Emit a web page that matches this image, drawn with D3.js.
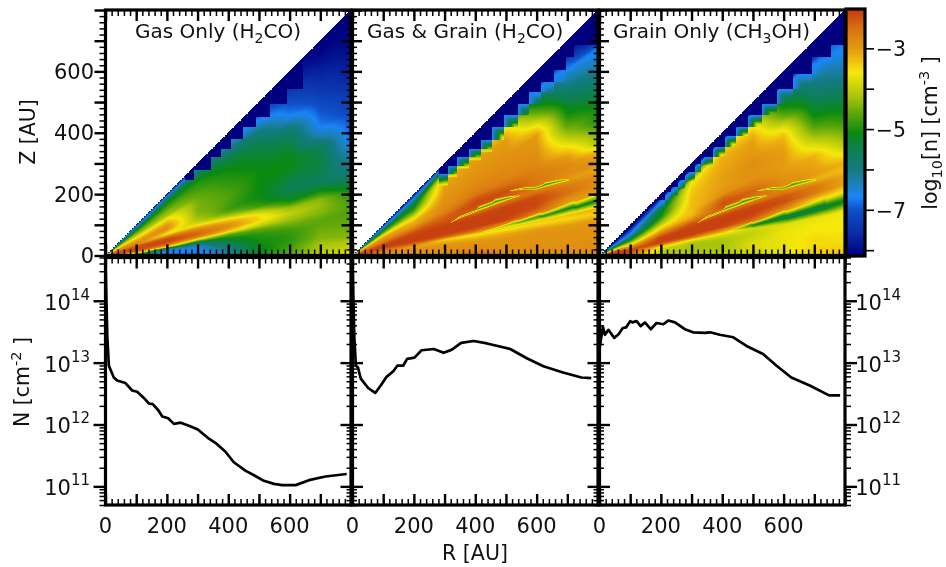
<!DOCTYPE html>
<html>
<head>
<meta charset="utf-8">
<script src="https://cdn.jsdelivr.net/npm/d3@7"></script>
<style>
    html, body { margin: 0; padding: 0; background: white; }
    #heat { position: absolute; left: 0; top: 0; filter: blur(0.7px); }
    #chart { position: absolute; left: 0; top: 0; filter: blur(0.3px); }
    text { font-family: "DejaVu Sans", sans-serif; fill: #111; }
</style>
</head>
<body>
<canvas id="heat" width="946" height="567"></canvas>
<svg id="chart" width="946" height="567"></svg>
<script>
//  heat map tables: log10 n, one row per z/R value, one column per R value
const gridR = [10, 50, 100, 200, 300, 400, 500, 600, 700, 800];
const gridF = [0, .02, .05, .08, .11, .14, .17, .2, .23, .26, .29, .32, .35, .38, .42, .46, .5, .55, .6, .65, .7, .75, .8, .85, .9, .95, 1];

const gasOnly = [
    [-2.3, -2.5, -4.8, -6.7, -6.8, -6.3, -5.0, -4.6, -4.0, -3.7],
    [-2.3, -2.6, -4.9, -6.7, -6.8, -6.2, -5.1, -4.7, -4.1, -3.9],
    [-2.3, -2.7, -5.0, -6.7, -6.7, -6.0, -5.2, -4.8, -4.2, -4.1],
    [-2.3, -2.6, -3.8, -6.6, -6.6, -5.7, -5.1, -4.9, -4.4, -4.4],
    [-2.3, -2.4, -2.7, -6.0, -6.3, -5.4, -5.0, -4.9, -4.5, -4.5],
    [-2.3, -2.3, -2.35, -3.6, -5.6, -5.1, -4.9, -4.8, -4.6, -4.6],
    [-2.25, -2.2, -2.2, -2.6, -3.9, -4.6, -4.6, -4.5, -4.6, -4.7],
    [-2.2, -2.2, -2.2, -2.25, -2.7, -3.3, -3.9, -4.2, -4.4, -4.7],
    [-2.2, -2.2, -2.2, -2.15, -2.4, -2.85, -3.45, -4.0, -4.3, -4.8],
    [-2.3, -2.2, -2.2, -2.15, -2.5, -2.95, -3.55, -4.3, -4.35, -5.0],
    [-2.4, -2.3, -2.2, -2.4, -2.9, -3.4, -4.1, -5.0, -4.9, -5.5],
    [-2.5, -2.4, -2.5, -3.0, -3.4, -4.1, -4.8, -5.3, -5.4, -5.7],
    [-2.6, -2.6, -2.7, -3.6, -3.9, -4.6, -5.0, -5.5, -5.6, -6.0],
    [-2.7, -2.7, -2.8, -3.3, -4.1, -4.8, -5.1, -5.5, -5.5, -6.2],
    [-2.8, -2.8, -2.9, -2.9, -4.3, -4.75, -5.1, -5.4, -5.4, -6.4],
    [-2.9, -2.9, -3.0, -2.85, -4.4, -4.7, -5.1, -5.2, -5.45, -6.7],
    [-3.1, -3.1, -3.2, -3.0, -4.45, -4.7, -5.1, -5.1, -5.5, -6.9],
    [-3.4, -3.4, -3.5, -3.3, -4.45, -4.8, -5.1, -5.2, -6.2, -7.0],
    [-3.7, -3.7, -3.8, -3.6, -4.5, -4.9, -5.2, -5.4, -6.7, -7.2],
    [-4.0, -4.0, -4.1, -4.2, -4.6, -5.0, -5.3, -5.6, -6.9, -7.35],
    [-4.3, -4.3, -4.4, -4.35, -4.75, -5.1, -5.45, -6.0, -7.1, -7.55],
    [-4.7, -4.7, -4.7, -4.6, -4.85, -5.3, -5.6, -6.6, -7.3, -7.75],
    [-5.0, -5.0, -5.0, -4.85, -5.0, -5.5, -5.9, -6.9, -7.5, -7.85],
    [-5.5, -5.5, -5.5, -5.05, -5.3, -5.9, -6.4, -7.15, -7.7, -8.0],
    [-6.0, -6.0, -6.0, -5.6, -5.7, -6.3, -6.8, -7.45, -7.9, -8.1],
    [-6.6, -6.6, -6.6, -6.2, -6.3, -6.7, -7.1, -7.7, -8.1, -8.1],
    [-7.8, -7.8, -7.8, -7.8, -7.8, -8.0, -8.0, -8.0, -8.1, -8.1]
];

const gasGrain = [
    [-2.4, -2.6, -2.85, -2.85, -2.85, -2.6, -2.85, -2.85, -2.85, -2.85],
    [-2.3, -2.5, -2.85, -2.85, -2.85, -2.5, -2.85, -2.85, -2.85, -2.85],
    [-2.3, -2.4, -2.85, -2.9, -2.9, -2.8, -2.9, -2.9, -2.9, -2.85],
    [-2.2, -2.3, -2.8, -2.9, -2.9, -2.9, -2.9, -2.9, -2.9, -2.9],
    [-2.2, -2.3, -2.7, -2.95, -2.95, -2.95, -2.95, -2.9, -2.9, -2.9],
    [-2.2, -2.2, -2.6, -3.1, -3.1, -3.2, -3.1, -3.0, -3.0, -2.95],
    [-2.2, -2.2, -2.5, -2.7, -3.5, -3.6, -3.6, -3.5, -3.5, -3.4],
    [-2.15, -2.15, -2.4, -2.3, -2.4, -2.5, -3.0, -3.3, -3.2, -3.1],
    [-2.15, -2.15, -2.2, -2.1, -2.1, -2.1, -2.15, -2.6, -3.1, -3.1],
    [-2.15, -2.15, -2.1, -2.1, -2.1, -2.1, -2.1, -2.2, -2.9, -3.0],
    [-2.2, -2.2, -2.1, -2.1, -2.1, -2.1, -2.1, -2.15, -2.5, -2.9],
    [-2.3, -2.2, -2.1, -2.1, -2.1, -2.15, -2.15, -2.2, -2.6, -2.85],
    [-2.4, -2.3, -2.15, -2.15, -2.2, -2.5, -2.5, -2.6, -3.0, -3.1],
    [-2.5, -2.4, -2.3, -2.25, -2.3, -2.3, -2.3, -2.6, -2.85, -2.85],
    [-2.6, -2.5, -2.5, -2.5, -2.4, -2.15, -2.2, -2.65, -2.8, -3.2],
    [-2.7, -2.7, -2.7, -2.8, -2.65, -2.3, -2.5, -2.7, -3.0, -4.2],
    [-2.8, -2.8, -2.8, -3.1, -2.8, -2.6, -2.75, -2.8, -3.5, -4.5],
    [-3.0, -3.0, -2.95, -3.2, -2.85, -2.75, -2.8, -2.85, -4.1, -5.0],
    [-3.2, -3.2, -3.2, -3.6, -2.9, -2.85, -2.85, -2.95, -4.6, -5.1],
    [-3.6, -3.6, -3.6, -4.0, -2.95, -2.9, -2.9, -3.0, -5.0, -5.4],
    [-4.2, -4.2, -4.2, -4.5, -3.0, -2.95, -2.95, -3.55, -5.3, -5.8],
    [-4.7, -4.7, -4.7, -4.9, -3.05, -3.0, -3.0, -4.3, -5.7, -6.1],
    [-5.1, -5.1, -5.0, -5.2, -3.1, -3.05, -3.3, -4.9, -6.1, -6.5],
    [-5.6, -5.6, -5.6, -5.6, -3.4, -3.2, -3.9, -5.5, -6.5, -6.8],
    [-6.4, -6.4, -6.4, -6.2, -4.2, -3.7, -5.2, -6.6, -7.0, -8.0],
    [-7.0, -7.0, -7.0, -6.9, -5.6, -5.2, -6.6, -8.0, -8.0, -8.1],
    [-7.8, -7.8, -7.8, -7.8, -7.6, -7.6, -8.0, -8.1, -8.1, -8.1]
];

const grainOnly = [
    [-2.6, -3.0, -3.6, -4.1, -4.1, -4.0, -3.9, -3.7, -3.4, -3.3],
    [-2.4, -2.7, -3.3, -4.1, -4.1, -4.1, -3.9, -3.7, -3.4, -3.4],
    [-2.2, -2.3, -2.5, -4.1, -4.15, -4.2, -3.8, -3.7, -3.5, -3.5],
    [-2.2, -2.2, -2.2, -4.0, -4.2, -4.2, -3.8, -3.7, -3.5, -3.55],
    [-2.2, -2.1, -2.1, -3.9, -4.2, -4.2, -3.9, -3.65, -3.6, -3.6],
    [-2.1, -2.1, -2.1, -3.6, -4.1, -4.1, -4.0, -3.7, -3.6, -3.6],
    [-2.1, -2.1, -2.1, -2.8, -3.6, -3.8, -3.9, -3.8, -3.7, -3.6],
    [-2.1, -2.1, -2.2, -2.2, -2.4, -3.0, -3.5, -3.7, -3.8, -3.7],
    [-2.2, -2.2, -2.4, -2.1, -2.1, -2.15, -2.5, -3.3, -3.7, -3.8],
    [-2.3, -2.4, -2.7, -2.1, -2.1, -2.1, -2.15, -2.6, -3.4, -3.6],
    [-2.5, -2.6, -3.0, -2.1, -2.1, -2.1, -2.1, -2.2, -2.6, -3.1],
    [-2.7, -2.8, -3.3, -2.3, -2.15, -2.15, -2.15, -2.3, -2.6, -3.1],
    [-3.0, -3.2, -3.6, -2.6, -2.3, -2.5, -2.6, -2.7, -3.2, -3.3],
    [-3.4, -3.6, -3.9, -2.9, -2.7, -2.4, -2.5, -2.8, -3.0, -3.2],
    [-3.8, -4.0, -4.3, -3.3, -3.2, -2.2, -2.4, -2.9, -3.1, -3.7],
    [-4.2, -4.4, -4.7, -3.6, -3.3, -2.4, -2.7, -3.0, -3.2, -4.2],
    [-4.7, -4.9, -5.0, -4.0, -3.3, -2.9, -2.9, -3.0, -3.65, -4.5],
    [-5.2, -5.3, -5.5, -4.4, -3.3, -3.0, -2.9, -3.0, -4.2, -4.9],
    [-5.7, -5.8, -6.0, -4.8, -3.3, -3.05, -2.85, -3.1, -4.7, -5.2],
    [-6.2, -6.3, -6.4, -5.1, -3.35, -3.05, -2.95, -3.3, -5.1, -5.5],
    [-6.6, -6.6, -6.7, -5.2, -3.4, -3.1, -3.0, -3.8, -5.4, -5.9],
    [-6.9, -6.9, -6.9, -5.5, -3.5, -3.15, -3.05, -4.5, -5.7, -6.2],
    [-7.2, -7.2, -7.1, -5.8, -3.7, -3.2, -3.3, -5.0, -6.0, -6.5],
    [-7.6, -7.6, -7.5, -6.5, -4.6, -3.3, -3.7, -5.4, -6.4, -6.7],
    [-8.0, -8.0, -8.1, -6.8, -5.5, -4.0, -4.8, -5.8, -6.8, -6.9],
    [-8.1, -8.1, -8.1, -8.1, -8.1, -8.1, -8.1, -8.1, -8.1, -8.1],
    [-8.1, -8.1, -8.1, -8.1, -8.1, -8.1, -8.1, -8.1, -8.1, -8.1]
];

//  thin lenses between the red bands: R, lower and upper z/R, log10 n. The jumps are the model's steps.
const upperLensA = {
    R: [320, 350, 405, 410, 455, 465, 510, 545],
    low: [.33, .347, .352, .352, .354, .354, .356, .356],
    high: [.336, .368, .37, .392, .388, .398, .38, .358],
    n: [-3.6, -4.4, -4.6, -4.8, -4.9, -5.0, -4.8, -3.8]
};
const upperLensB = {
    R: [512, 560, 600, 620, 628, 680, 707],
    low: [.41, .384, .358, .358, .356, .351, .347],
    high: [.412, .396, .374, .374, .38, .364, .349],
    n: [-3.6, -4.6, -4.8, -4.9, -5.0, -4.6, -3.6]
};
const lowerLensGas = {
    R: [425, 480, 534, 540, 609, 620, 717, 730, 800],
    low: [.178, .181, .184, .184, .188, .188, .192, .192, .195],
    high: [.182, .2, .218, .212, .23, .224, .246, .24, .254],
    n: [-3.6, -4.1, -4.5, -4.6, -4.9, -5.0, -5.2, -5.2, -5.2]
};
const lowerLensGrain = {
    R: [418, 495, 500, 603, 610, 733, 740, 800],
    low: [.185, .178, .178, .172, .172, .18, .18, .186],
    high: [.187, .222, .215, .245, .238, .255, .25, .258],
    n: [-3.6, -5.0, -5.2, -5.6, -5.6, -5.5, -5.4, -5.2]
};

//  staircase of empty model cells: above stairZ[i] (from stairR[i] on) the map is navy
const gasOnlyStairR = [0, 258, 290, 345, 378, 410, 448, 492, 535, 590, 644];
const gasOnlyStairZ = [9999, 245, 277, 321, 348, 381, 419, 451, 495, 544, 9999];
const gasGrainStairR = [0, 283, 310, 342, 380, 418, 456, 495, 538, 576, 614, 658, 696, 723];
const gasGrainStairZ = [9999, 266, 293, 321, 348, 375, 419, 457, 495, 532, 565, 603, 647, 685];
const grainOnlyStairR = [0, 190, 212, 234, 256, 277, 310, 332, 370, 408, 446, 484, 528, 577, 631, 691, 756];
const grainOnlyStairZ = [9999, 180, 207, 223, 245, 272, 299, 321, 354, 388, 419, 457, 495, 544, 593, 647, 685];
//  width in AU of the blue rim along the staircase
const stairRim = [0, 40, 30];
const rimLevel = -6.7;

//  column density, log10 N
const gasOnlyLineR = [1, 3, 6, 11, 27, 38, 65, 87, 103, 125, 141, 154, 172, 185, 204, 223, 245, 272, 301, 337, 359, 391, 418, 457, 484, 516, 549, 576, 620, 663, 717, 786];
const gasOnlyLineN = [14.5, 14.0, 13.4, 12.95, 12.76, 12.71, 12.67, 12.55, 12.53, 12.43, 12.34, 12.33, 12.23, 12.13, 12.10, 12.01, 12.03, 11.98, 11.92, 11.77, 11.70, 11.56, 11.39, 11.25, 11.18, 11.09, 11.04, 11.02, 11.02, 11.10, 11.16, 11.20];
const gasGrainLineR = [1, 3, 6, 11, 18, 27, 51, 74, 92, 111, 133, 146, 165, 178, 202, 225, 265, 297, 324, 354, 395, 438, 514, 568, 622, 686, 746, 778];
const gasGrainLineN = [14.5, 14.0, 13.4, 12.95, 12.92, 12.74, 12.59, 12.51, 12.63, 12.77, 12.86, 12.95, 12.95, 13.06, 13.08, 13.20, 13.22, 13.16, 13.21, 13.32, 13.35, 13.31, 13.22, 13.07, 12.94, 12.84, 12.76, 12.75];
const grainOnlyLineR = [1, 11, 18, 29, 48, 62, 76, 87, 100, 107, 121, 134, 148, 167, 186, 208, 224, 246, 278, 305, 343, 360, 392, 436, 479, 533, 577, 625, 685, 748, 784];
const grainOnlyLineN = [13.25, 13.58, 13.45, 13.53, 13.40, 13.46, 13.56, 13.57, 13.67, 13.65, 13.67, 13.59, 13.65, 13.54, 13.64, 13.62, 13.68, 13.65, 13.54, 13.49, 13.48, 13.49, 13.45, 13.41, 13.27, 13.14, 12.95, 12.76, 12.63, 12.47, 12.47];

const panelTitles = [["Gas Only (H", "2", "CO)"], ["Gas & Grain (H", "2", "CO)"], ["Grain Only (CH", "3", "OH)"]];
const titleX = [135, 367, 613];
const rTicks = [0, 200, 400, 600];
const zTicks = [0, 200, 400, 600];
const nTicks = [11, 12, 13, 14];
const barTicks = [-3, -5, -7];
const barMinorTicks = [-3, -4, -5, -6, -7, -8];

const colorStops = [-8.12, -7.6, -7, -6.67, -6.3, -6, -5.5, -5.1, -4.6, -4.2, -3.6, -3.2, -3, -2.5, -2.05];
const colorValues = ["#00007f", "#0a2aa5", "#0f50c8", "#1a85f5", "#1a80b0", "#137a80", "#0c8050", "#0a8a10", "#60a80a", "#a8c40a", "#f5e80a", "#eeb010", "#e39a10", "#d8700f", "#c53a0f"];

const panelLeft = [105.5, 352.5, 599.5];
const panelRight = [351, 598, 845];
const topRange = [255.5, 10];
const botRange = [505, 257.5];

const maps = [gasOnly, gasGrain, grainOnly];
const lenses = [[], [upperLensA, upperLensB, lowerLensGas], [upperLensA, upperLensB, lowerLensGrain]];
const stairsR = [gasOnlyStairR, gasGrainStairR, grainOnlyStairR];
const stairsZ = [gasOnlyStairZ, gasGrainStairZ, grainOnlyStairZ];
const linesR = [gasOnlyLineR, gasGrainLineR, grainOnlyLineR];
const linesN = [gasOnlyLineN, gasGrainLineN, grainOnlyLineN];

const color = d3.scaleLinear().domain(colorStops).range(colorValues).clamp(true);
const svg = d3.select("#chart");
const ctx = document.getElementById("heat").getContext("2d");

const zScale = d3.scaleLinear().domain([0, 800]).range(topRange);
const nScale = d3.scaleLog().domain([5e10, 5e14]).range(botRange);
const barScale = d3.scaleLinear().domain([-8.12, -2.05]).range([255, 10]);

//  value of a table at (R, z/R), linear between neighbours
function sampleMap(iTable, iR, iF) {
    const r = Math.max(gridR[0], Math.min(gridR[gridR.length - 1], iR));
    const c = Math.min(gridR.length - 2, d3.bisectRight(gridR, r) - 1);
    const k = Math.min(gridF.length - 2, d3.bisectRight(gridF, iF) - 1);
    const tc = (r - gridR[c]) / (gridR[c + 1] - gridR[c]);
    const tk = (iF - gridF[k]) / (gridF[k + 1] - gridF[k]);
    const a = iTable[k][c] * (1 - tc) + iTable[k][c + 1] * tc;
    const b = iTable[k + 1][c] * (1 - tc) + iTable[k + 1][c + 1] * tc;
    return a * (1 - tk) + b * tk;
}

//  lay a lens over the value from the table: strongest on its middle line
function applyLens(iLens, iValue, iR, iF) {
    const first = iLens.R[0];
    const last = iLens.R[iLens.R.length - 1];
    if (iR < first || iR > last) return iValue;
    const low = d3.scaleLinear().domain(iLens.R).range(iLens.low)(iR);
    const high = d3.scaleLinear().domain(iLens.R).range(iLens.high)(iR);
    const half = (high - low) / 2 + 0.003;
    const d = Math.abs(iF - (low + high) / 2);
    if (d > half) return iValue;
    const n = d3.scaleLinear().domain(iLens.R).range(iLens.n)(iR);
    return iValue + (n - iValue) * (1 - d / half);
}

//  how far a point is from the staircase, along z or along R
function rimDistance(iSR, iSZ, iR, iZ) {
    const s = d3.bisectRight(iSR, iR) - 1;
    let dist = iSZ[s] - iZ;
    if (s > 0 && iZ > iSZ[s - 1]) dist = Math.min(dist, iR - iSR[s]);
    return dist;
}

function drawMap(iPanel, xScale) {
    const table = maps[iPanel];
    const sR = stairsR[iPanel];
    const sZ = stairsZ[iPanel];
    const rim = stairRim[iPanel];
    const [x0, x1] = xScale.range();
    for (let px = Math.floor(x0); px < x1; px++) {
        const R = xScale.invert(px + 0.5);
        if (R < 0 || R > 800) continue;
        const edge = sZ[d3.bisectRight(sR, R) - 1];
        for (let py = Math.floor(topRange[1]); py < topRange[0]; py++) {
            const z = zScale.invert(py + 0.5);
            if (z < 0 || z > R) continue;
            let v = sampleMap(table, R, z / R);
            lenses[iPanel].forEach(function (lens) {
                v = applyLens(lens, v, R, z / R);
            });
            if (rim > 0 && edge < 9999 && z <= edge) {
                const dist = rimDistance(sR, sZ, R, z);
                if (dist < rim) v = Math.min(v, rimLevel + (v - rimLevel) * dist / rim);
            }
            ctx.fillStyle = z > edge ? colorValues[0] : color(v);
            ctx.fillRect(px, py, 1, 1);
        }
    }
}

//  one set of ticks through a d3 axis, labels are added on their own
function addTicks(iAxisFn, iScale, iValues, iSize, iWidth, iX, iY) {
    const g = svg.append("g").attr("transform", `translate(${iX},${iY})`)
        .call(iAxisFn(iScale).tickValues(iValues).tickSize(-iSize).tickFormat(""));
    g.select(".domain").remove();
    g.selectAll("line").attr("stroke", "#000").attr("stroke-width", iWidth);
}

function addFrame(iX0, iX1, iY0, iY1) {
    svg.append("rect").attr("x", iX0).attr("y", iY1)
        .attr("width", iX1 - iX0).attr("height", iY0 - iY1)
        .attr("fill", "none").attr("stroke", "#000").attr("stroke-width", 3.2);
}

function addLogLabels(iScale, iX) {
    nTicks.forEach(function (n) {
        const t = svg.append("text").attr("x", iX).attr("y", iScale(Math.pow(10, n)) + 9)
            .attr("text-anchor", "end").attr("font-size", 21);
        t.append("tspan").text("10");
        t.append("tspan").attr("dy", -10).attr("font-size", 15).text(n);
    });
}

const major100 = d3.range(0, 801, 100);
const minor20 = d3.range(0, 801, 20);

panelLeft.forEach(function (left, i) {
    const xScale = d3.scaleLinear().domain([0, 800]).range([left, panelRight[i]]);
    drawMap(i, xScale);

    //  upper panel ticks
    [[d3.axisBottom, topRange[0]], [d3.axisTop, topRange[1]]].forEach(function ([fn, y]) {
        addTicks(fn, xScale, minor20, 6, 1.5, 0, y);
        addTicks(fn, xScale, major100, 11, 2.4, 0, y);
    });
    [[d3.axisRight, left], [d3.axisLeft, panelRight[i]]].forEach(function ([fn, x]) {
        addTicks(fn, zScale, minor20, 6, 1.5, x, 0);
        addTicks(fn, zScale, major100, 11, 2.4, x, 0);
    });
    addFrame(left, panelRight[i], topRange[0], topRange[1]);

    //  lower panel ticks
    [[d3.axisBottom, botRange[0]], [d3.axisTop, botRange[1]]].forEach(function ([fn, y]) {
        addTicks(fn, xScale, minor20, 6, 1.5, 0, y);
        addTicks(fn, xScale, major100, 11, 2.4, 0, y);
    });
    const minorN = [];
    [10, 11, 12, 13, 14].forEach(function (n) {
        d3.range(1, 10).forEach(function (m) {
            const v = m * Math.pow(10, n);
            if (m > 1 && v >= 5e10 && v <= 5e14) minorN.push(v);
        });
    });
    const majorN = nTicks.map(n => Math.pow(10, n));
    [[d3.axisRight, left], [d3.axisLeft, panelRight[i]]].forEach(function ([fn, x]) {
        addTicks(fn, nScale, minorN, 6, 1.5, x, 0);
        addTicks(fn, nScale, majorN, 12, 2.4, x, 0);
    });

    //  the column density line
    const line = d3.line().x((d, k) => xScale(linesR[i][k])).y(d => nScale(Math.pow(10, d)));
    svg.append("path").attr("d", line(linesN[i]))
        .attr("fill", "none").attr("stroke", "#000").attr("stroke-width", 2.7)
        .attr("stroke-linejoin", "round");
    addFrame(left, panelRight[i], botRange[0], botRange[1]);

    //  R labels
    svg.selectAll(null).data(rTicks).enter().append("text")
        .attr("x", d => xScale(d)).attr("y", 533)
        .attr("text-anchor", "middle").attr("font-size", 21).text(d => d);

    //  title with its subscript
    const title = svg.append("text").attr("x", titleX[i]).attr("y", 38).attr("font-size", 20);
    title.append("tspan").text(panelTitles[i][0]);
    title.append("tspan").attr("dy", 5).attr("font-size", 14).text(panelTitles[i][1]);
    title.append("tspan").attr("dy", -5).text(panelTitles[i][2]);
});

//  left labels
svg.selectAll(null).data(zTicks).enter().append("text")
    .attr("x", 94).attr("y", d => zScale(d) + 7.5)
    .attr("text-anchor", "end").attr("font-size", 21).text(d => d);
addLogLabels(nScale, 90);
addLogLabels(nScale, 901);

svg.append("text").attr("transform", "translate(35,132) rotate(-90)")
    .attr("text-anchor", "middle").attr("font-size", 20.5).text("Z [AU]");
const nLabel = svg.append("text").attr("transform", "translate(29,382) rotate(-90)")
    .attr("text-anchor", "middle").attr("font-size", 20.5);
nLabel.append("tspan").text("N [cm");
nLabel.append("tspan").attr("dy", -8).attr("font-size", 14.5).text("-2");
nLabel.append("tspan").attr("dy", 8).text(" ]");
svg.append("text").attr("x", 475).attr("y", 560)
    .attr("text-anchor", "middle").attr("font-size", 20.5).text("R [AU]");

//  colour bar
const barLevels = d3.range(10, 255).map(y => barScale.invert(y + 0.5));
svg.selectAll(null).data(barLevels).enter().append("rect")
    .attr("x", 846).attr("width", 19)
    .attr("y", d => barScale(d) - 0.5).attr("height", 1.2)
    .attr("fill", d => color(d));
addTicks(d3.axisLeft, barScale, barMinorTicks, 10, 1.6, 864, 0);
svg.append("rect").attr("x", 846).attr("y", 9).attr("width", 19).attr("height", 247)
    .attr("fill", "none").attr("stroke", "#000").attr("stroke-width", 3.2);
svg.selectAll(null).data(barTicks).enter().append("text")
    .attr("x", 906).attr("y", d => barScale(d) + 8)
    .attr("text-anchor", "end").attr("font-size", 20.5).text(d => "\u2212" + Math.abs(d));
const barLabel = svg.append("text").attr("transform", "translate(937,133) rotate(-90)")
    .attr("text-anchor", "middle").attr("font-size", 20.5);
barLabel.append("tspan").text("log");
barLabel.append("tspan").attr("dy", 5).attr("font-size", 14.5).text("10");
barLabel.append("tspan").attr("dy", -5).text("[n] [cm");
barLabel.append("tspan").attr("dy", -8).attr("font-size", 14.5).text("-3");
barLabel.append("tspan").attr("dy", 8).text(" ]");
</script>
</body>
</html>
